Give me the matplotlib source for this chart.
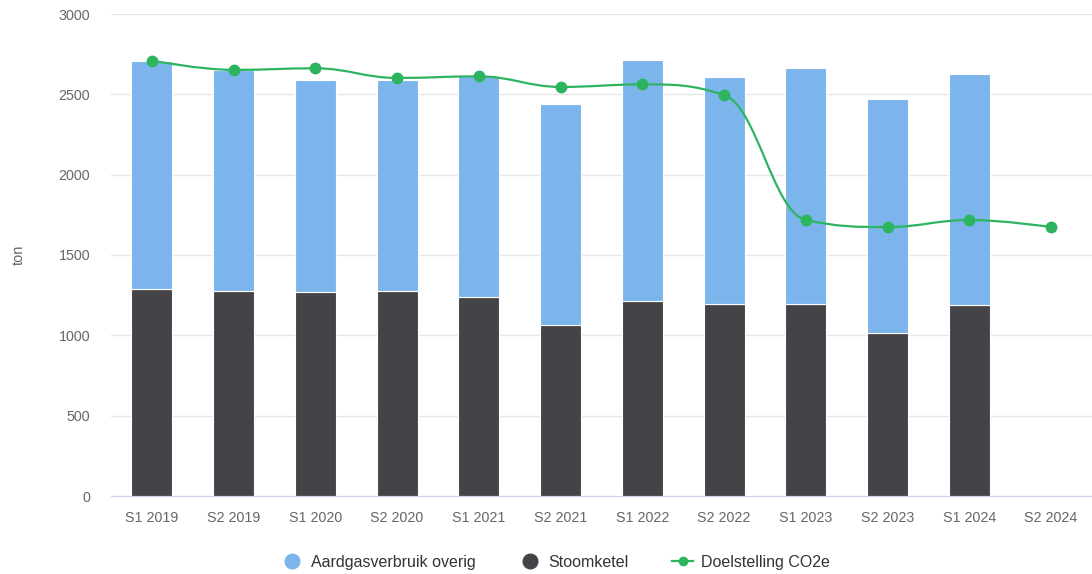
import numpy as np
import matplotlib
matplotlib.use("Agg")
import matplotlib.pyplot as plt
from matplotlib.path import Path
from matplotlib.patches import PathPatch
from matplotlib.lines import Line2D

plt.rcParams['font.family'] = ['Liberation Sans', 'DejaVu Sans']

# Data
periods = ['S1 2019', 'S2 2019', 'S1 2020', 'S2 2020', 'S1 2021', 'S2 2021',
           'S1 2022', 'S2 2022', 'S1 2023', 'S2 2023', 'S1 2024', 'S2 2024']
stoomketel = [1288, 1276, 1270, 1276, 1239, 1064, 1214, 1195, 1195, 1015, 1189, None]
totaal = [2707, 2651, 2589, 2589, 2614, 2440, 2714, 2608, 2664, 2471, 2626, None]
doelstelling = [2710, 2652, 2662, 2602, 2612, 2546, 2562, 2496, 1718, 1674, 1718, 1674]

BLUE = '#7cb5ec'
DARK = '#434348'
GREEN = '#2db45f'
TEXT = '#666666'


def spline_path(xs, ys, smoothing=1.5):
    # Highcharts-like spline: cubic bezier with clamped control points
    n = len(xs)
    denom = smoothing + 1
    left = [None] * n
    right = [None] * n
    for i in range(1, n - 1):
        px, py = xs[i], ys[i]
        lx, ly = xs[i - 1], ys[i - 1]
        nx, ny = xs[i + 1], ys[i + 1]
        lcx = (smoothing * px + lx) / denom
        lcy = (smoothing * py + ly) / denom
        rcx = (smoothing * px + nx) / denom
        rcy = (smoothing * py + ny) / denom
        corr = 0
        if rcx != lcx:
            corr = (rcy - lcy) * (rcx - px) / (rcx - lcx) + py - rcy
        lcy += corr
        rcy += corr
        if lcy > ly and lcy > py:
            lcy = max(ly, py)
            rcy = 2 * py - lcy
        elif lcy < ly and lcy < py:
            lcy = min(ly, py)
            rcy = 2 * py - lcy
        if rcy > ny and rcy > py:
            rcy = max(ny, py)
            lcy = 2 * py - rcy
        elif rcy < ny and rcy < py:
            rcy = min(ny, py)
            lcy = 2 * py - rcy
        left[i] = (lcx, lcy)
        right[i] = (rcx, rcy)
    verts = [(xs[0], ys[0])]
    codes = [Path.MOVETO]
    for i in range(1, n):
        c1 = right[i - 1] if right[i - 1] is not None else (xs[i - 1], ys[i - 1])
        c2 = left[i] if left[i] is not None else (xs[i], ys[i])
        verts += [c1, c2, (xs[i], ys[i])]
        codes += [Path.CURVE4] * 3
    return Path(verts, codes)


fig = plt.figure(figsize=(10.92, 5.74), dpi=100)
ax = fig.add_axes([111 / 1092, 1 - 496 / 574, 1 - 111 / 1092, (496 - 14) / 574])

x = np.arange(len(periods))
for i in range(len(periods)):
    if stoomketel[i] is None:
        continue
    overig = totaal[i] - stoomketel[i]
    ax.bar(x[i], stoomketel[i], width=0.5, color=DARK, edgecolor='white',
           linewidth=0.8, zorder=2)
    ax.bar(x[i], overig, bottom=stoomketel[i], width=0.5, color=BLUE,
           edgecolor='white', linewidth=0.8, zorder=2)

path = spline_path(list(x.astype(float)), [float(v) for v in doelstelling])
ax.add_patch(PathPatch(path, facecolor='none', edgecolor=GREEN, linewidth=1.6,
                       zorder=3, capstyle='round'))
ax.plot(x, doelstelling, 'o', color=GREEN, markersize=7.5, zorder=4)

ax.set_xlim(-0.5, len(periods) - 0.5)
ax.set_ylim(0, 3000)
ax.set_yticks(range(0, 3001, 500))
ax.set_xticks(x)
ax.set_xticklabels(periods)
ax.grid(axis='y', color='#e6e6e6', linewidth=1, zorder=0)
ax.set_axisbelow(True)
for s in ['top', 'right', 'left']:
    ax.spines[s].set_visible(False)
ax.spines['bottom'].set_color('#ccd6eb')
ax.spines['bottom'].set_zorder(5)
ax.tick_params(axis='both', length=0, labelsize=10.3, colors=TEXT)
ax.tick_params(axis='y', pad=15)
ax.tick_params(axis='x', pad=11)
ax.set_ylabel('ton', color=TEXT, fontsize=10.5)
ax.yaxis.set_label_coords(-85 / 981, 0.5)

handles = [
    Line2D([], [], marker='o', linestyle='none', color=BLUE, markersize=10.5),
    Line2D([], [], marker='o', linestyle='none', color=DARK, markersize=10.5),
    Line2D([], [], marker='o', linestyle='-', color=GREEN, markersize=6, linewidth=1.6),
]
leg = fig.legend(handles, ['Aardgasverbruik overig', 'Stoomketel', 'Doelstelling CO2e'],
                 loc='lower center', bbox_to_anchor=(0.509, -0.018), ncol=3, frameon=False,
                 fontsize=11.5, handlelength=1.3, columnspacing=2.75, handletextpad=0.5)
for t in leg.get_texts():
    t.set_color('#333333')

fig.savefig('out.png', dpi=100)
